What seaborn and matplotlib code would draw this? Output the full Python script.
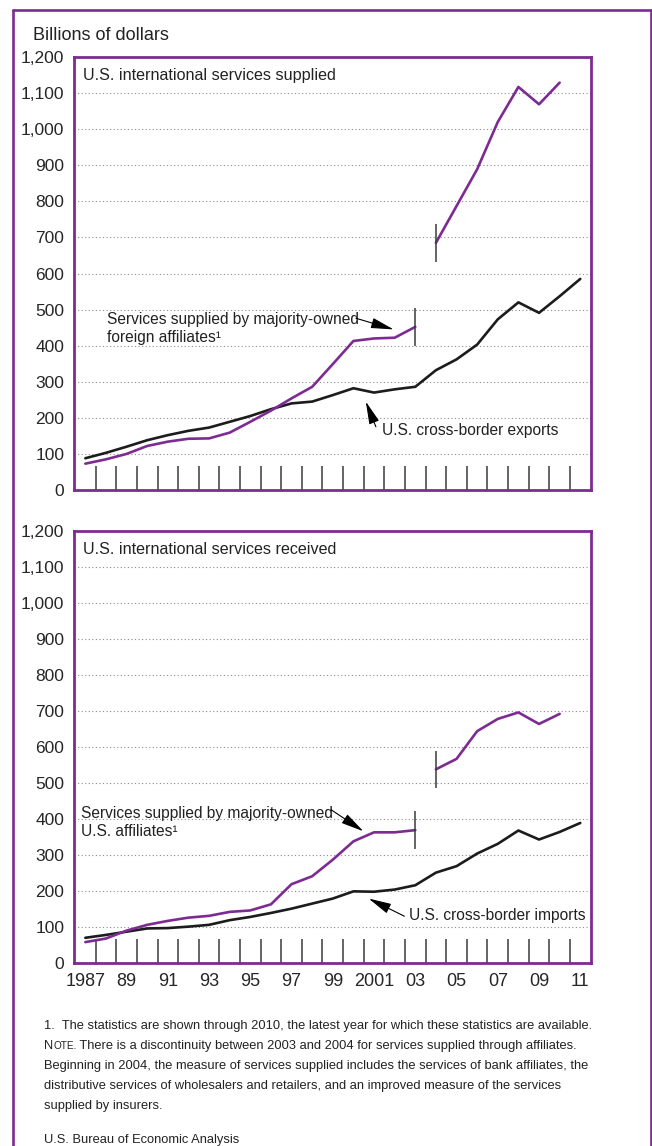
import numpy as np
import pandas as pd
import seaborn as sns
import matplotlib.pyplot as plt
from matplotlib import font_manager
from matplotlib.lines import Line2D

# values, billions of dollars
years = list(range(1987, 2012))
exports = [88, 103, 120, 138, 152, 164, 173, 189, 205, 224, 240, 245, 263,
           282, 270, 279, 286, 332, 362, 403, 473, 520, 491, 537, 585]
imports = [70, 78, 87, 96, 97, 101, 106, 119, 128, 139, 151, 165, 179,
           199, 198, 204, 216, 251, 269, 304, 331, 368, 343, 364, 389]

# affiliate series break between 2003 and 2004
aff_years_old = list(range(1987, 2004))
aff_years_new = list(range(2004, 2011))
foreign_aff_old = [73, 85, 100, 122, 134, 142, 143, 159, 189, 220, 254, 286,
                   349, 413, 420, 422, 452]
foreign_aff_new = [685, 787, 889, 1020, 1117, 1069, 1129]
us_aff_old = [58, 68, 90, 106, 117, 126, 131, 142, 146, 163, 219, 241,
              287, 338, 363, 363, 369]
us_aff_new = [538, 567, 644, 678, 696, 664, 692]

ytick_values = list(range(0, 1300, 100))
ytick_labels = ["0", "100", "200", "300", "400", "500", "600", "700", "800",
                "900", "1,000", "1,100", "1,200"]
xtick_years = list(range(1987, 2012, 2))
xtick_labels = ["1987", "89", "91", "93", "95", "97", "99", "2001", "03",
                "05", "07", "09", "11"]

notes = [
    "1.  The statistics are shown through 2010, the latest year for which these statistics are available.",
    None,
    "Beginning in 2004, the measure of services supplied includes the services of bank affiliates, the",
    "distributive services of wholesalers and retailers, and an improved measure of the services",
    "supplied by insurers.",
]
note_line = " There is a discontinuity between 2003 and 2004 for services supplied through affiliates."

PURPLE = "#7d2b92"
BLACK = "#1c1c1c"
TICK = "#3a3a3a"
W, H = 652, 1146

sns.set_style("white")
installed = {f.name for f in font_manager.fontManager.ttflist}
NARROW = "Liberation Sans Narrow" if "Liberation Sans Narrow" in installed else "Liberation Sans"
shrink = 1.0 if NARROW == "Liberation Sans Narrow" else 0.86
plt.rcParams["font.family"] = ["Liberation Sans", "DejaVu Sans"]
plt.rcParams["text.color"] = "#222222"

fig = plt.figure(figsize=(W / 100, H / 100), dpi=100)


def px_box(left, top, right, bottom):
    return [left / W, 1 - bottom / H, (right - left) / W, (bottom - top) / H]


def draw_panel(ax, cross, aff_old, aff_new, show_years):
    sns.lineplot(x=years, y=cross, color=BLACK, lw=1.9, ax=ax)
    sns.lineplot(x=aff_years_old, y=aff_old, color=PURPLE, lw=1.9, ax=ax)
    sns.lineplot(x=aff_years_new, y=aff_new, color=PURPLE, lw=1.9, ax=ax)
    # break markers at the discontinuity
    ends = [aff_old[-1], aff_new[0]]
    ax.vlines([aff_years_old[-1], aff_years_new[0]], [v - 52 for v in ends],
              [v + 52 for v in ends], color=TICK, lw=1.1, zorder=4)

    ax.set_xlim(1986.45, 2011.52)
    ax.set_ylim(0, 1200)
    ax.set_yticks(ytick_values)
    ax.set_yticklabels(ytick_labels)
    ax.yaxis.grid(True, ls=(0, (1, 2.2)), color="#8c8c8c", lw=0.8)
    ax.xaxis.grid(False)
    ax.set_xticks(xtick_years)
    ax.set_xticks([y + 0.5 for y in years[:-1]], minor=True)
    if show_years:
        ax.set_xticklabels(xtick_labels)
    else:
        ax.set_xticklabels([])
    ax.tick_params(axis="x", which="major", bottom=True, length=0, pad=7, labelsize=13)
    ax.tick_params(axis="x", which="minor", bottom=True, direction="in", length=17,
                   width=1.1, color=TICK)
    ax.tick_params(axis="y", length=0, pad=7, labelsize=12.5)
    ax.set_xlabel("")
    ax.set_ylabel("")
    for sp in ax.spines.values():
        sp.set_visible(True)
        sp.set_color(PURPLE)
        sp.set_linewidth(2)


def label(ax, text, xy, **kw):
    ax.text(xy[0], xy[1], text, family=[NARROW, "DejaVu Sans"],
            fontsize=13 * shrink, ha="left", va="center", linespacing=1.25, **kw)


def arrow(ax, tip, start):
    ax.annotate("", xy=tip, xytext=start,
                arrowprops=dict(arrowstyle="-|>,head_length=1.4,head_width=0.32",
                                color="black", lw=0.8, shrinkA=0, shrinkB=0,
                                mutation_scale=10))


ax1 = fig.add_axes(px_box(74, 57, 591, 490))
ax2 = fig.add_axes(px_box(74, 531, 591, 963))
draw_panel(ax1, exports, foreign_aff_old, foreign_aff_new, False)
draw_panel(ax2, imports, us_aff_old, us_aff_new, True)

ax1.text(0.017, 0.958, "U.S. international services supplied", transform=ax1.transAxes,
         family=[NARROW, "DejaVu Sans"], fontsize=13.5 * shrink, va="center")
ax2.text(0.017, 0.958, "U.S. international services received", transform=ax2.transAxes,
         family=[NARROW, "DejaVu Sans"], fontsize=13.5 * shrink, va="center")

label(ax1, "Services supplied by majority-owned\nforeign affiliates\u00b9", (1988.07, 448))
arrow(ax1, (2001.95, 445), (2000.12, 476))
label(ax1, "U.S. cross-border exports", (2001.4, 166))
arrow(ax1, (2000.6, 245), (2001.09, 175))

label(ax2, "Services supplied by majority-owned\nU.S. affiliates\u00b9", (1986.8, 389))
arrow(ax2, (2000.48, 366), (1998.91, 426))
label(ax2, "U.S. cross-border imports", (2002.71, 133))
arrow(ax2, (2000.74, 179), (2002.47, 130))

fig.text(33 / W, 1 - 40 / H, "Billions of dollars", fontsize=13, va="baseline")

# footnotes
note_kw = dict(family=[NARROW, "DejaVu Sans"], fontsize=10.8 * shrink, va="baseline")
base = 1029
for i, line in enumerate(notes):
    y = base + i * 20
    if line is not None:
        fig.text(44 / W, 1 - y / H, line, **note_kw)
    else:
        t = fig.text(44 / W, 1 - y / H, "N", **note_kw)
        small = dict(note_kw, fontsize=note_kw["fontsize"] * 0.78)
        a = fig.add_artist(plt.Annotation("OTE.", xy=(1, H - y), xycoords=(t, "figure pixels"),
                                          ha="left", **small))
        fig.add_artist(plt.Annotation(note_line, xy=(1, H - y), xycoords=(a, "figure pixels"),
                                      ha="left", **note_kw))
fig.text(44 / W, 1 - 1143 / H, "U.S. Bureau of Economic Analysis", **note_kw)

# outer frame
for xs, ys in [([12.5, 12.5], [0, 1136]), ([12.5, 650.5], [1136, 1136]),
               ([650.5, 650.5], [1136, 0])]:
    fig.add_artist(Line2D([x / W for x in xs], [y / H for y in ys],
                          color=PURPLE, lw=1.9, transform=fig.transFigure))

fig.savefig("out.png", dpi=100)
